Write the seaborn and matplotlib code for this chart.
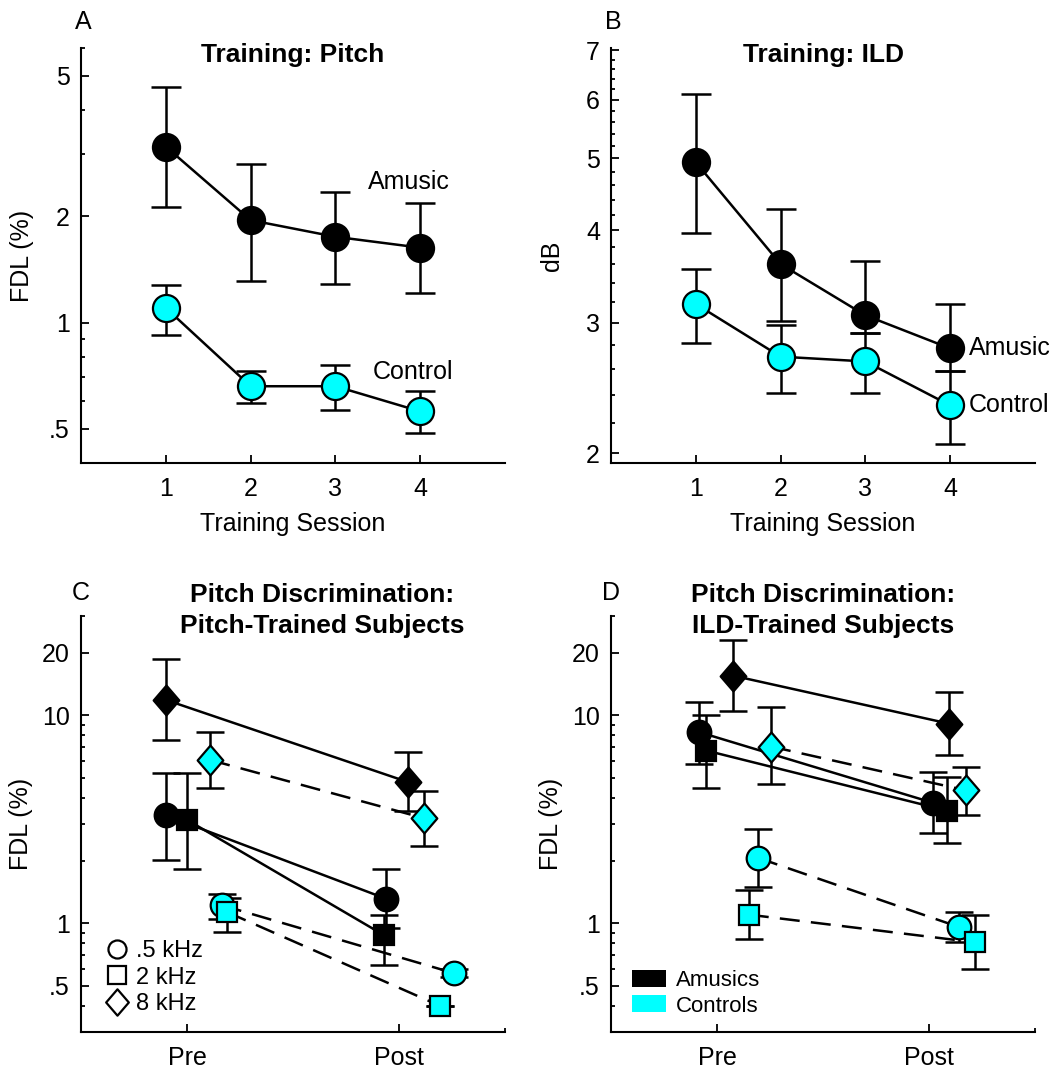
import numpy as np
import matplotlib
matplotlib.use("Agg")
import matplotlib.pyplot as plt
from matplotlib.path import Path
from matplotlib.patches import Patch
from matplotlib.lines import Line2D
from matplotlib.ticker import FixedLocator, FixedFormatter, NullFormatter
import seaborn as sns

# ---------------- data ----------------
sessions = [1, 2, 3, 4]

# Training: pitch (FDL %), mean with error-bar ends
pitch_amusic = [3.15, 1.95, 1.75, 1.63]
pitch_amusic_hi = [4.66, 2.82, 2.34, 2.18]
pitch_amusic_lo = [2.12, 1.31, 1.29, 1.21]
pitch_control = [1.10, 0.66, 0.66, 0.56]
pitch_control_hi = [1.28, 0.73, 0.76, 0.64]
pitch_control_lo = [0.925, 0.59, 0.565, 0.487]

# Training: ILD (dB)
ild_amusic = [4.94, 3.60, 3.07, 2.77]
ild_amusic_hi = [6.10, 4.27, 3.63, 3.18]
ild_amusic_lo = [3.96, 3.02, 2.91, 2.58]
ild_control = [3.18, 2.70, 2.66, 2.32]
ild_control_hi = [3.55, 2.98, 2.91, 2.58]
ild_control_lo = [2.82, 2.41, 2.41, 2.06]

phases = ["Pre", "Post"]
freq_keys = ["0.5", "2", "8"]
freq_labels = [".5 kHz", "2 kHz", "8 kHz"]

# Pitch discrimination, pitch-trained subjects: [pre, post]
pt_amusic = {"0.5": [3.30, 1.31], "2": [3.14, 0.875], "8": [11.85, 4.78]}
pt_amusic_lo = {"0.5": [2.01, 0.95], "2": [1.83, 0.632], "8": [7.57, 3.45]}
pt_amusic_hi = {"0.5": [5.30, 1.83], "2": [5.30, 1.10], "8": [18.7, 6.63]}
pt_control = {"0.5": [1.22, 0.575], "2": [1.13, 0.40], "8": [6.09, 3.20]}
pt_control_lo = {"0.5": [1.05, 0.55], "2": [0.91, 0.40], "8": [4.45, 2.36]}
pt_control_hi = {"0.5": [1.38, 0.60], "2": [1.32, 0.40], "8": [8.30, 4.33]}

# Pitch discrimination, ILD-trained subjects: [pre, post]
it_amusic = {"0.5": [8.30, 3.79], "2": [6.76, 3.48], "8": [15.5, 9.11]}
it_amusic_lo = {"0.5": [5.86, 2.71], "2": [4.48, 2.42], "8": [10.5, 6.44]}
it_amusic_hi = {"0.5": [11.6, 5.34], "2": [10.07, 5.07], "8": [23.0, 13.0]}
it_control = {"0.5": [2.06, 0.96], "2": [1.10, 0.81], "8": [7.07, 4.35]}
it_control_lo = {"0.5": [1.49, 0.81], "2": [0.836, 0.60], "8": [4.65, 3.33]}
it_control_hi = {"0.5": [2.83, 1.135], "2": [1.45, 1.09], "8": [10.9, 5.67]}

# horizontal offsets that keep overlapping symbols apart
pt_amusic_dx = {"0.5": [-0.10, -0.06], "2": [0.0, -0.07], "8": [-0.10, 0.04]}
pt_control_dx = {"0.5": [0.165, 0.26], "2": [0.19, 0.195], "8": [0.11, 0.117]}
it_amusic_dx = {"0.5": [-0.085, 0.02], "2": [-0.05, 0.085], "8": [0.075, 0.095]}
it_control_dx = {"0.5": [0.195, 0.14], "2": [0.15, 0.215], "8": [0.255, 0.175]}

# ---------------- style ----------------
sns.set_theme(style="ticks")
plt.rcParams["font.family"] = ["Liberation Sans", "DejaVu Sans"]
plt.rcParams["axes.linewidth"] = 1.5
for key in ("text.color", "axes.labelcolor", "xtick.color", "ytick.color",
            "axes.edgecolor"):
    plt.rcParams[key] = "black"

CYAN = "#00FFFF"
BLACK = "#000000"
LW = 1.8
DASH = (0, (8, 4.5))
FS = 18        # tick labels, axis labels, series labels
FS_TITLE = 19  # bold panel titles
FS_LETTER = 18
diamond = Path([(0, 1), (0.86, 0), (0, -1), (-0.86, 0), (0, 1)],
               [Path.MOVETO, Path.LINETO, Path.LINETO, Path.LINETO, Path.CLOSEPOLY])
shape = {"0.5": ("o", 17), "2": ("s", 14), "8": (diamond, 21.5)}

fig = plt.figure(figsize=(10.58, 10.70), dpi=100)
axA = fig.add_axes([0.0766, 0.5673, 0.4008, 0.3879])
axB = fig.add_axes([0.5775, 0.5673, 0.4008, 0.3879])
axC = fig.add_axes([0.0766, 0.0355, 0.4008, 0.3888])
axD = fig.add_axes([0.5775, 0.0355, 0.4008, 0.3888])


def style_axis(ax):
    sns.despine(ax=ax)
    ax.set_yscale("log")
    ax.tick_params(which="major", direction="in", length=5.5, width=1.3,
                   labelsize=FS, color=BLACK, labelcolor=BLACK)
    ax.tick_params(which="minor", direction="in", length=3, width=1.3, color=BLACK)
    ax.tick_params(axis="y", which="major", pad=8)
    ax.tick_params(axis="x", which="major", pad=10)
    for s in ("left", "bottom"):
        ax.spines[s].set_color(BLACK)
        ax.spines[s].set_linewidth(1.5)
    ax.grid(False)


def training_series(ax, mean, lo, hi, face):
    mean = np.asarray(mean)
    yerr = [mean - np.asarray(lo), np.asarray(hi) - mean]
    ax.errorbar(sessions, mean, yerr=yerr, fmt="none", ecolor=BLACK,
                elinewidth=LW, capsize=11, capthick=LW, zorder=2)
    sns.lineplot(x=sessions, y=mean, ax=ax, color=BLACK, lw=LW, zorder=3)
    ax.plot(sessions, mean, ls="none", marker="o", ms=19.5, mfc=face,
            mec=BLACK, mew=1.6, zorder=4)


def prepost_series(ax, means, lo, hi, dx, face, ls):
    for k in freq_keys:
        x = np.array([0.0, 1.0]) + np.asarray(dx[k])
        y = np.asarray(means[k])
        yerr = [y - np.asarray(lo[k]), np.asarray(hi[k]) - y]
        ax.errorbar(x, y, yerr=yerr, fmt="none", ecolor=BLACK,
                    elinewidth=LW, capsize=10, capthick=LW, zorder=2)
        sns.lineplot(x=x, y=y, ax=ax, color=BLACK, lw=LW, linestyle=ls,
                     zorder=3, sort=False)
        m, ms = shape[k]
        ax.plot(x, y, ls="none", marker=m, ms=ms, mfc=face, mec=BLACK,
                mew=1.6, zorder=4)


# ---------------- A: training pitch ----------------
style_axis(axA)
training_series(axA, pitch_amusic, pitch_amusic_lo, pitch_amusic_hi, BLACK)
training_series(axA, pitch_control, pitch_control_lo, pitch_control_hi, CYAN)
axA.set_xlim(0, 5)
axA.set_ylim(0.4, 6)
axA.yaxis.set_major_locator(FixedLocator([0.5, 1, 2, 5]))
axA.yaxis.set_major_formatter(FixedFormatter([".5", "1", "2", "5"]))
axA.yaxis.set_minor_locator(FixedLocator([0.4, 0.6, 0.7, 0.8, 0.9, 3, 4, 6]))
axA.yaxis.set_minor_formatter(NullFormatter())
axA.set_xticks(sessions)
axA.set_xticklabels([str(s) for s in sessions])
axA.text(3.86, 2.5, "Amusic", ha="center", va="center", fontsize=FS)
axA.text(3.91, 0.725, "Control", ha="center", va="center", fontsize=FS)
axA.set_ylabel("FDL (%)", fontsize=FS)
axA.set_xlabel("Training Session", fontsize=FS)
axA.text(0.5, 0.965, "Training: Pitch", transform=axA.transAxes, ha="center",
         va="baseline", fontsize=FS_TITLE, fontweight="bold")
axA.text(0.005, 1.063, "A", transform=axA.transAxes, ha="center", va="center",
         fontsize=FS_LETTER)

# ---------------- B: training ILD ----------------
style_axis(axB)
training_series(axB, ild_amusic, ild_amusic_lo, ild_amusic_hi, BLACK)
training_series(axB, ild_control, ild_control_lo, ild_control_hi, CYAN)
axB.set_xlim(0, 5)
axB.set_ylim(1.94, 7.05)
axB.yaxis.set_major_locator(FixedLocator([2, 3, 4, 5, 6, 7]))
axB.yaxis.set_major_formatter(FixedFormatter(["2", "3", "4", "5", "6", "7"]))
axB.yaxis.set_minor_locator(FixedLocator([v / 10 for v in range(22, 70, 2) if v % 10]))
axB.yaxis.set_minor_formatter(NullFormatter())
axB.set_xticks(sessions)
axB.set_xticklabels([str(s) for s in sessions])
axB.text(4.22, 2.77, "Amusic", ha="left", va="center", fontsize=FS)
axB.text(4.22, 2.32, "Control", ha="left", va="center", fontsize=FS)
axB.set_ylabel("dB", fontsize=FS)
axB.set_xlabel("Training Session", fontsize=FS)
axB.text(0.5, 0.965, "Training: ILD", transform=axB.transAxes, ha="center",
         va="baseline", fontsize=FS_TITLE, fontweight="bold")
axB.text(0.005, 1.063, "B", transform=axB.transAxes, ha="center", va="center",
         fontsize=FS_LETTER)

# ---------------- C and D: pre/post pitch discrimination ----------------
for ax, am, am_lo, am_hi, am_dx, co, co_lo, co_hi, co_dx in [
        (axC, pt_amusic, pt_amusic_lo, pt_amusic_hi, pt_amusic_dx,
         pt_control, pt_control_lo, pt_control_hi, pt_control_dx),
        (axD, it_amusic, it_amusic_lo, it_amusic_hi, it_amusic_dx,
         it_control, it_control_lo, it_control_hi, it_control_dx)]:
    style_axis(ax)
    prepost_series(ax, am, am_lo, am_hi, am_dx, BLACK, "-")
    prepost_series(ax, co, co_lo, co_hi, co_dx, CYAN, DASH)
    ax.set_xlim(-0.5, 1.5)
    ax.set_ylim(0.3, 30)
    ax.set_xticks([0, 1])
    ax.set_xticklabels(phases)
    ax.set_xticks([1.5], minor=True)
    ax.yaxis.set_major_locator(FixedLocator([0.5, 1, 10, 20]))
    ax.yaxis.set_major_formatter(FixedFormatter([".5", "1", "10", "20"]))
    ax.yaxis.set_minor_locator(FixedLocator(
        [0.3, 0.4, 0.6, 0.7, 0.8, 0.9, 2, 3, 4, 5, 6, 7, 8, 9, 30]))
    ax.yaxis.set_minor_formatter(NullFormatter())
    ax.set_ylabel("FDL (%)", fontsize=FS)
    ax.set_xlabel("")

axC.text(0.568, 1.034, "Pitch Discrimination:", transform=axC.transAxes,
         ha="center", va="baseline", fontsize=FS_TITLE, fontweight="bold")
axC.text(0.568, 0.96, "Pitch-Trained Subjects", transform=axC.transAxes,
         ha="center", va="baseline", fontsize=FS_TITLE, fontweight="bold")
axC.text(0.0, 1.055, "C", transform=axC.transAxes, ha="center", va="center",
         fontsize=FS_LETTER)

axD.text(0.5, 1.034, "Pitch Discrimination:", transform=axD.transAxes,
         ha="center", va="baseline", fontsize=FS_TITLE, fontweight="bold")
axD.text(0.5, 0.96, "ILD-Trained Subjects", transform=axD.transAxes,
         ha="center", va="baseline", fontsize=FS_TITLE, fontweight="bold")
axD.text(0.0, 1.055, "D", transform=axD.transAxes, ha="center", va="center",
         fontsize=FS_LETTER)

# frequency legend (open symbols)
freq_handles = [Line2D([], [], ls="none", marker=shape[k][0],
                       ms={"0.5": 13, "2": 12.5, "8": 19}[k],
                       mfc="white", mec=BLACK, mew=1.6) for k in freq_keys]
axC.legend(freq_handles, freq_labels, loc="lower left", bbox_to_anchor=(0.06, 0.04),
           frameon=False, fontsize=17, handlelength=0.9, handletextpad=0.35,
           labelspacing=0.2, borderpad=0, borderaxespad=0)

# group legend (filled patches)
group_handles = [Patch(facecolor=BLACK, edgecolor="none"),
                 Patch(facecolor=CYAN, edgecolor="none")]
axD.legend(group_handles, ["Amusics", "Controls"], loc="upper left",
           bbox_to_anchor=(0.05, 0.15), frameon=False, fontsize=16,
           handlelength=1.5, handleheight=0.8, handletextpad=0.45,
           labelspacing=0.2, borderpad=0, borderaxespad=0)

for ax in (axA, axB):
    ax.yaxis.set_label_coords(-0.11, 0.5)
    ax.xaxis.set_label_coords(0.5, -0.118)
for ax in (axC, axD):
    ax.yaxis.set_label_coords(-0.113, 0.5)

fig.savefig("out.png", dpi=100)
